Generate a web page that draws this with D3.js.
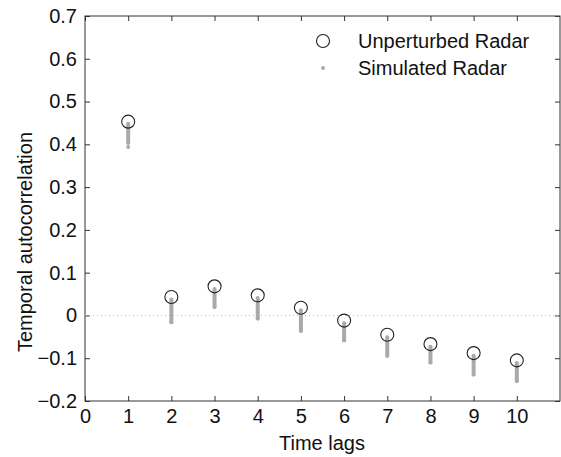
<!DOCTYPE html>
<html>
<head>
<meta charset="utf-8">
<script src="https://cdn.jsdelivr.net/npm/d3@7"></script>
<style>
  body { margin: 0; background: #fff; }
  text { font-family: "Liberation Sans", Arial, sans-serif; fill: #111; }
</style>
</head>
<body>
<div id="chart"></div>
<script>
// values
const lags = [1, 2, 3, 4, 5, 6, 7, 8, 9, 10];
const unperturbed = [0.453, 0.043, 0.068, 0.047, 0.018, -0.012, -0.045, -0.067, -0.088, -0.105];
const simTop = [0.448, 0.037, 0.062, 0.041, 0.012, -0.018, -0.051, -0.073, -0.094, -0.111];
const simBottom = [0.403, -0.016, 0.02, -0.007, -0.036, -0.058, -0.094, -0.11, -0.138, -0.153];
const simLow = [0.394, -0.016, 0.02, -0.007, -0.036, -0.058, -0.094, -0.11, -0.138, -0.153];
const xTicks = [0, 1, 2, 3, 4, 5, 6, 7, 8, 9, 10];
const yTicks = [-0.2, -0.1, 0, 0.1, 0.2, 0.3, 0.4, 0.5, 0.6, 0.7];

const width = 561, height = 457,
    margin = { top: 16, right: 1, bottom: 56, left: 85 },
    fontSize = 20;

const svg = d3.select('#chart').append('svg')
    .attr('width', width)
    .attr('height', height);

const x = d3.scaleLinear().domain([0, 11]).range([margin.left, width - margin.right]),
    y = d3.scaleLinear().domain([-0.2, 0.7]).range([height - margin.bottom, margin.top]);

const fmtY = d => (d === 0 ? '0' : d3.format('.1f')(d));

// box
svg.append('rect')
    .attr('x', x(0)).attr('y', y(0.7))
    .attr('width', x(11) - x(0)).attr('height', y(-0.2) - y(0.7))
    .attr('fill', 'none').attr('stroke', '#333').attr('stroke-width', 1);

// axes, ticks pointing in
const xAxis = svg.append('g')
    .attr('transform', `translate(0,${y(-0.2)})`)
    .call(d3.axisBottom(x).tickValues(xTicks).tickSizeInner(-5).tickSizeOuter(0).tickPadding(8));
const xTop = svg.append('g')
    .attr('transform', `translate(0,${y(0.7)})`)
    .call(d3.axisTop(x).tickValues(xTicks).tickSizeInner(-5).tickSizeOuter(0).tickFormat(''));
const yAxis = svg.append('g')
    .attr('transform', `translate(${x(0)},0)`)
    .call(d3.axisLeft(y).tickValues(yTicks).tickFormat(fmtY).tickSizeInner(-5).tickSizeOuter(0).tickPadding(8));
const yRight = svg.append('g')
    .attr('transform', `translate(${x(11)},0)`)
    .call(d3.axisRight(y).tickValues(yTicks).tickSizeInner(-5).tickSizeOuter(0).tickFormat(''));

[xAxis, xTop, yAxis, yRight].forEach(g => {
    g.select('.domain').remove();
    g.selectAll('.tick line').attr('stroke', '#333');
    g.selectAll('.tick text').attr('font-size', fontSize).attr('fill', '#111')
        .style('font-family', '"Liberation Sans", Arial, sans-serif');
});
xAxis.selectAll('.tick text').attr('dy', '0.71em');

// zero line
svg.append('line')
    .attr('x1', x(0)).attr('x2', x(11))
    .attr('y1', y(0)).attr('y2', y(0))
    .attr('stroke', '#bbb').attr('stroke-width', 1)
    .attr('stroke-dasharray', '1,3');

// simulated radar spread
const sim = svg.append('g');
sim.selectAll('line')
    .data(lags)
    .enter().append('line')
    .attr('x1', d => x(d)).attr('x2', d => x(d))
    .attr('y1', (d, i) => y(simTop[i]))
    .attr('y2', (d, i) => y(simBottom[i]))
    .attr('stroke', '#aaa').attr('stroke-width', 4)
    .attr('stroke-linecap', 'round');
sim.selectAll('circle')
    .data(lags)
    .enter().append('circle')
    .attr('cx', d => x(d))
    .attr('cy', (d, i) => y(simLow[i]))
    .attr('r', 2)
    .attr('fill', '#aaa');

// unperturbed
svg.append('g').selectAll('circle')
    .data(lags)
    .enter().append('circle')
    .attr('cx', d => x(d))
    .attr('cy', (d, i) => y(unperturbed[i]))
    .attr('r', 6.5)
    .attr('fill', 'none')
    .attr('stroke', '#222').attr('stroke-width', 1.1);

// legend
const legend = svg.append('g');
legend.append('circle').attr('cx', 323).attr('cy', 41).attr('r', 6.5)
    .attr('fill', 'none').attr('stroke', '#222').attr('stroke-width', 1.1);
legend.append('circle').attr('cx', 323).attr('cy', 68).attr('r', 2).attr('fill', '#aaa');
legend.append('text').attr('x', 358).attr('y', 41).attr('dy', '0.35em')
    .attr('font-size', fontSize).text('Unperturbed Radar');
legend.append('text').attr('x', 358).attr('y', 68).attr('dy', '0.35em')
    .attr('font-size', fontSize).text('Simulated Radar');

// axis titles
svg.append('text')
    .attr('x', 322).attr('y', 450)
    .attr('text-anchor', 'middle')
    .attr('font-size', fontSize)
    .text('Time lags');
svg.append('text')
    .attr('transform', 'translate(32,242) rotate(-90)')
    .attr('text-anchor', 'middle')
    .attr('font-size', fontSize)
    .text('Temporal autocorrelation');
</script>
</body>
</html>
